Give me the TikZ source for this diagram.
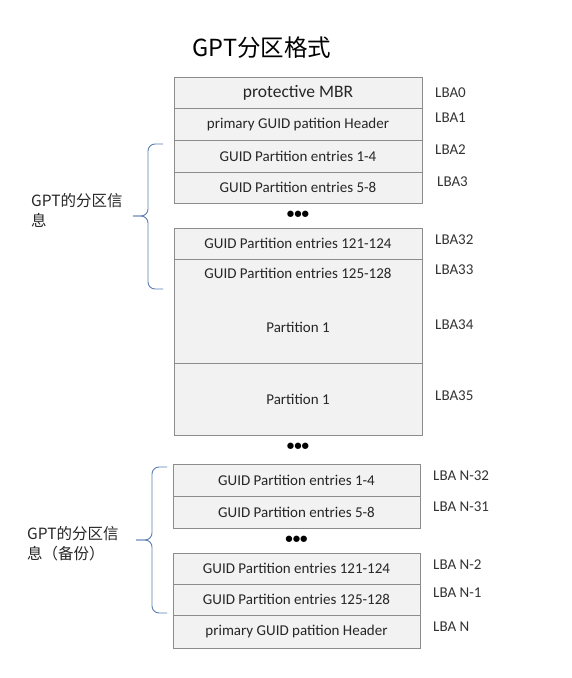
\documentclass[tikz,border=0pt]{standalone}
\usepackage{fontspec}
\setmainfont{Carlito}
\newfontfamily\cjk{Noto Sans CJK SC}
\definecolor{cellfill}{HTML}{F2F2F2}
\definecolor{cellline}{HTML}{8C8C8C}
\definecolor{bracecol}{HTML}{5B7FAF}
\begin{document}
\begin{tikzpicture}[x=1pt,y=-1pt,
  cell/.style={draw=cellline,fill=cellfill,line width=0.8pt,minimum width=248pt,inner sep=0pt,font=\fontsize{15}{17}\selectfont,text=black!85},
  bcell/.style={cell,minimum width=247pt},
  txt/.style={inner sep=0pt,font=\fontsize{15}{17}\selectfont,text=black!85},
  lba/.style={anchor=west,inner sep=0pt,font=\fontsize{15}{17}\selectfont,text=black!80},
  dots/.style={inner sep=0pt,font=\fontsize{15}{15}\selectfont\bfseries},
  brace/.style={draw=bracecol,line width=0.9pt,rounded corners=7pt},
  side/.style={anchor=north west,inner sep=0pt,align=left,font=\cjk\fontsize{15.5}{20}\selectfont,text=black!85}]
\useasboundingbox (0,0) rectangle (571,678);
\node[inner sep=0pt,font=\cjk\fontsize{23.5}{26}\selectfont] (title) at (262,48) {GPT分区格式};
% top group
\node[cell,minimum height=31pt,font=\fontsize{17.5}{19}\selectfont] (mbr) at (298,92.5) {protective MBR};
\node[cell,minimum height=32pt] (hdr) at (298,124) {primary GUID patition Header};
\node[cell,minimum height=32pt] (e1) at (298,156) {GUID Partition entries 1-4};
\node[cell,minimum height=31pt] (e2) at (298,187.5) {GUID Partition entries 5-8};
\node[dots] (d1) at (298,215) {•••};
\node[cell,minimum height=31pt] (e31) at (298,243.5) {GUID Partition entries 121-124};
\node[cell,minimum height=104pt] (p1) at (298,311) {};
\node[txt] (e32) at (298,273) {GUID Partition entries 125-128};
\node[txt] (p1t) at (298,327) {Partition 1};
\node[cell,minimum height=72pt] (p2) at (298,399) {Partition 1};
\node[dots] (d2) at (298,447) {•••};
% bottom group
\node[bcell,minimum height=32pt] (b1) at (296.5,480) {GUID Partition entries 1-4};
\node[bcell,minimum height=32pt] (b2) at (296.5,512) {GUID Partition entries 5-8};
\node[dots] (d3) at (296.5,540) {•••};
\node[bcell,minimum height=31pt] (b31) at (296.5,568.5) {GUID Partition entries 121-124};
\node[bcell,minimum height=31pt] (b32) at (296.5,599.5) {GUID Partition entries 125-128};
\node[bcell,minimum height=33pt] (bh) at (296.5,631.5) {primary GUID patition Header};
% LBA labels
\node[lba] (l0) at (435,93) {LBA0};
\node[lba] (l1) at (435,118) {LBA1};
\node[lba] (l2) at (435,150) {LBA2};
\node[lba] (l3) at (437,182) {LBA3};
\node[lba] (l32) at (435,240) {LBA32};
\node[lba] (l33) at (435,270) {LBA33};
\node[lba] (l34) at (435,325) {LBA34};
\node[lba] (l35) at (435,396) {LBA35};
\node[lba] (ln32) at (433,476) {LBA N-32};
\node[lba] (ln31) at (433,507) {LBA N-31};
\node[lba] (ln2) at (433,565) {LBA N-2};
\node[lba] (ln1) at (433,593) {LBA N-1};
\node[lba] (ln) at (433,627) {LBA N};
% braces
\draw[brace] (163,144) -- (148,144) -- (148,216) -- (133,216);
\draw[brace] (133,216) -- (148,216) -- (148,289) -- (163,289);
\draw[brace] (167,467) -- (152,467) -- (152,540) -- (136,540);
\draw[brace] (136,540) -- (152,540) -- (152,613) -- (167,613);
\node[side] (s1) at (31,193) {GPT的分区信\\息};
\node[side] (s2) at (27,526) {GPT的分区信\\息（备份）};
\end{tikzpicture}
\end{document}
